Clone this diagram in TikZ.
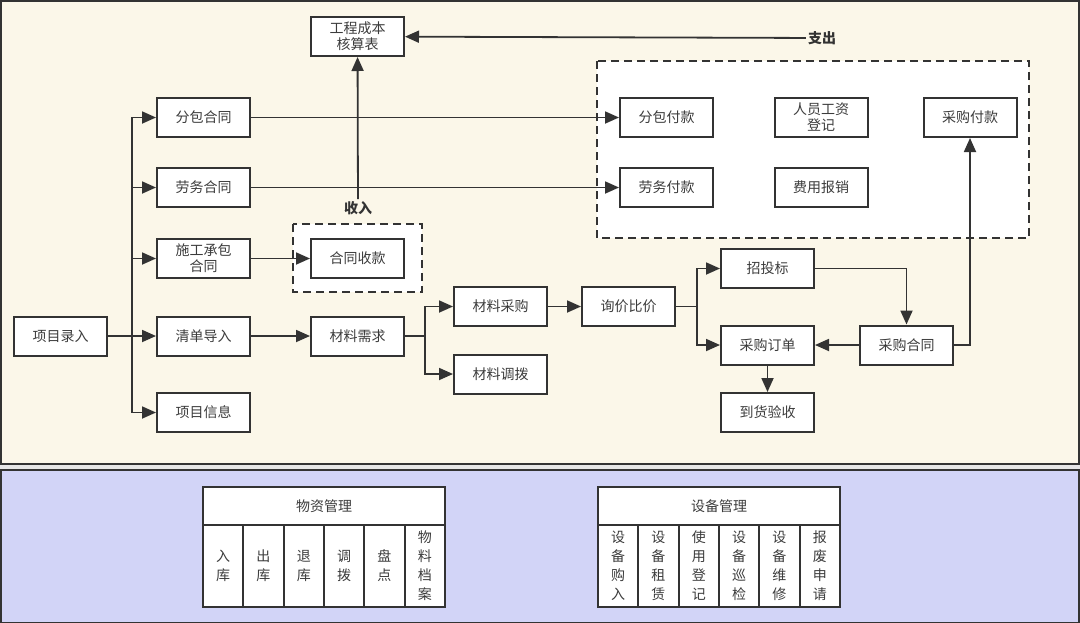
\documentclass[tikz,border=0pt]{standalone}
\usepackage{fontspec}
\setmainfont{Noto Sans CJK SC}
\usepackage{xcolor}
\usetikzlibrary{arrows.meta}

\begin{document}
\begin{tikzpicture}[x=1pt,y=-1pt,
  box/.style={draw=edge,line width=2pt,fill=white,text=txt,minimum width=93pt,minimum height=39pt,inner sep=0pt,align=center,font=\fontsize{14}{16}\selectfont},
  cell/.style={draw=edge,line width=2pt,fill=white,text=txt,minimum width=40.33pt,minimum height=82pt,inner sep=0pt,align=center,font=\fontsize{14}{19}\selectfont},
  head/.style={draw=edge,line width=2pt,fill=white,text=txt,minimum width=242pt,minimum height=38pt,inner sep=0pt,font=\fontsize{14}{16}\selectfont},
  dashbox/.style={draw=edge,line width=2pt,fill=white,dash pattern=on 8pt off 5pt},
  tag/.style={font=\fontsize{14}{16}\selectfont\bfseries,text=edge,inner sep=2pt},
  line/.style={draw=edge,line width=1.8pt},
  arr/.style={line,-{Triangle[length=14pt,width=12pt]}}]
\definecolor{edge}{HTML}{333333}
\definecolor{txt}{HTML}{3C3C3C}
\definecolor{cream}{HTML}{FBF7E9}
\definecolor{lilac}{HTML}{D2D4F7}
\definecolor{gap}{HTML}{E6E6E6}
\useasboundingbox (0,0) rectangle (1080,622);
\fill[gap] (0,0) rectangle (1080,622);
\draw[fill=cream,draw=edge,line width=2pt] (1,1) rectangle (1079,464);
\draw[fill=lilac,draw=edge,line width=2pt] (1,470) rectangle (1079,623);

\draw[dashbox] (293,224) rectangle (422,292);
\draw[dashbox] (597,61) rectangle (1029,238);

\node[box] (gccb) at (357.5,36.5) {工程成本\\核算表};
\node[tag] (zc) at (822,38) {支出};
\node[tag] (sr) at (358,208) {收入};

\node[box] (xmlr) at (60.5,336) {项目录入};
\node[box] (fbht) at (203.5,117.5) {分包合同};
\node[box] (lwht) at (203.5,187.5) {劳务合同};
\node[box] (sgcb) at (203.5,258.5) {施工承包\\合同};
\node[box] (qddr) at (203.5,336) {清单导入};
\node[box] (xmxx) at (203.5,412.5) {项目信息};
\node[box] (htsk) at (357.5,258.5) {合同收款};
\node[box] (clxq) at (357.5,336) {材料需求};
\node[box] (clcg) at (500.5,306.5) {材料采购};
\node[box] (cldb) at (500.5,374) {材料调拨};
\node[box] (xjbj) at (628.5,306.5) {询价比价};
\node[box] (ztb) at (767.5,268.5) {招投标};
\node[box] (cgdd) at (767.5,345) {采购订单};
\node[box] (dhys) at (767.5,412.5) {到货验收};
\node[box] (cght) at (906.5,345) {采购合同};

\node[box] (fbfk) at (666.5,117.5) {分包付款};
\node[box] (rygz) at (821,117.5) {人员工资\\登记};
\node[box] (cgfk) at (970,117.5) {采购付款};
\node[box] (lwfk) at (666.5,187.5) {劳务付款};
\node[box] (fybx) at (821,187.5) {费用报销};

\coordinate (br1) at (132,336);
\coordinate (br2) at (425,336);
\coordinate (br3) at (697,306.5);

\draw[line] (xmlr) -- (br1);
\foreach \n in {fbht,lwht,sgcb,qddr,xmxx}
  \draw[arr] (br1) |- (\n.west);
\draw[arr] (sgcb) -- (htsk);
\draw[arr] (qddr) -- (clxq);
\draw[line] (clxq) -- (br2);
\foreach \n in {clcg,cldb}
  \draw[arr] (br2) |- (\n.west);
\draw[arr] (clcg) -- (xjbj);
\draw[line] (xjbj) -- (br3);
\foreach \n in {ztb,cgdd}
  \draw[arr] (br3) |- (\n.west);
\draw[arr] (ztb.east) -| (cght.north);
\draw[arr] (cght) -- (cgdd);
\draw[arr] (cgdd) -- (dhys);
\draw[arr] (cght.east) -| (cgfk.south);
\draw[arr] (sr) -- (gccb);
\draw[arr] (fbht) -- (fbfk);
\draw[arr] (lwht) -- (lwfk);
\draw[arr] (zc) -- (gccb);

\node[head] (wzgl) at (324,506) {物资管理};
\foreach \t [count=\i] in {{入\\库},{出\\库},{退\\库},{调\\拨},{盘\\点},{物\\料\\档\\案}}
  \node[cell] (wz\i) at (203+40.33*\i-20.17,566) {\t};
\node[head] (sbgl) at (719,506) {设备管理};
\foreach \t [count=\i] in {{设\\备\\购\\入},{设\\备\\租\\赁},{使\\用\\登\\记},{设\\备\\巡\\检},{设\\备\\维\\修},{报\\废\\申\\请}}
  \node[cell] (sb\i) at (598+40.33*\i-20.17,566) {\t};
\end{tikzpicture}
\end{document}
